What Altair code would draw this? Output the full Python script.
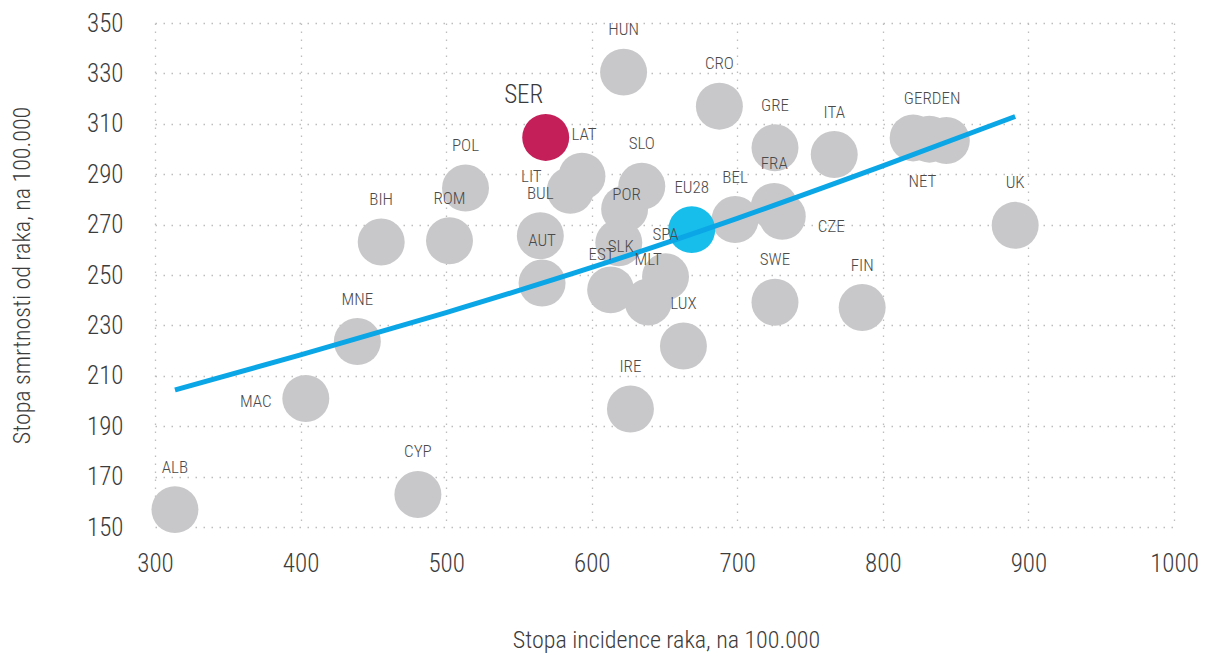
import altair as alt
import pandas as pd

# ---- data ----
countries = ["ALB", "CYP", "MAC", "MNE", "BIH", "ROM", "POL", "SER", "LAT", "LIT",
             "BUL", "AUT", "HUN", "CRO", "SLO", "POR", "SLK", "EST", "MLT", "SPA",
             "EU28", "LUX", "IRE", "BEL", "GRE", "FRA", "CZE", "ITA", "SWE", "FIN",
             "GER", "DEN", "NET", "UK"]
incidence = [313.7, 480.6, 403.6, 439.0, 455.4, 502.3, 513.3, 568.4, 593.3, 585.3,
             564.7, 565.9, 621.9, 687.7, 634.4, 622.6, 618.6, 613.0, 638.8, 650.7,
             668.7, 663.0, 626.6, 698.5, 725.9, 725.4, 730.9, 766.6, 725.9, 785.8,
             820.8, 843.6, 832.0, 890.9]
mortality = [156.9, 162.9, 201.0, 223.6, 263.1, 263.6, 284.5, 304.6, 289.2, 283.6,
             265.6, 246.8, 330.5, 317.0, 285.2, 276.2, 262.8, 244.1, 239.3, 249.3,
             268.0, 221.8, 196.8, 272.0, 300.5, 277.2, 273.3, 297.8, 239.2, 237.1,
             304.4, 303.4, 303.9, 269.7]
# exponential trend line
trend_x = [313.7, 400, 500, 600, 700, 800, 890.9]
trend_y = [204.4, 218.3, 235.1, 253.0, 272.5, 293.3, 312.9]

highlight = {"SER": "#c41f59", "EU28": "#17bdeb"}
label_text = {"GER": "GERDEN", "DEN": ""}

x_ticks = [300, 400, 500, 600, 700, 800, 900, 1000]
y_ticks = [150, 170, 190, 210, 230, 250, 270, 290, 310, 330, 350]

# ---- layout / style ----
W, H = 1019, 504
XD, YD = (300, 1000), (150, 350)
FONT = "Liberation Sans Narrow, Roboto Condensed, DejaVu Sans Condensed, Roboto"
GRAY = "#c8c8ca"
LINE = "#0aa6e6"
# label nudges in pixels (dx, dy) relative to the circle centre
label_nudge = {"MAC": (-50, 4), "LIT": (-39, -13), "POR": (2, -14), "SLK": (2, 4),
               "EST": (-9, -35), "CZE": (49, 11), "NET": (-7, 43), "GER": (19, -39),
               "LAT": (2, -41), "SER": (-22, -42)}
default_nudge = (0, -42)

df = pd.DataFrame({"country": countries, "inc": incidence, "mort": mortality})
df["kind"] = df["country"].map(lambda c: c if c in highlight else "other")
tdf = pd.DataFrame({"inc": trend_x, "mort": trend_y})

px_x = W / (XD[1] - XD[0])
px_y = H / (YD[1] - YD[0])
lab = df.copy()
lab["text"] = lab["country"].map(lambda c: label_text.get(c, c))
lab["lx"] = [r.inc + label_nudge.get(r.country, default_nudge)[0] / px_x for r in lab.itertuples()]
lab["ly"] = [r.mort - label_nudge.get(r.country, default_nudge)[1] / px_y for r in lab.itertuples()]
lab_small = lab[(lab["country"] != "SER") & (lab["text"] != "")]
lab_big = lab[lab["country"] == "SER"]

xs = alt.Scale(domain=list(XD), nice=False, zero=False)
ys = alt.Scale(domain=list(YD), nice=False, zero=False)

x_axis = alt.Axis(values=x_ticks, format="d", title="Stopa incidence raka, na 100.000",
                  titleX=511, titleY=113, titleBaseline="middle", titleAlign="center",
                  labelPadding=24, labelFontSize=25, labelFlush=False)
y_axis = alt.Axis(values=y_ticks, format="d", title="Stopa smrtnosti od raka, na 100.000",
                  titleX=-133, titleY=252, titleAngle=270, titleBaseline="middle",
                  titleAlign="center", labelPadding=32, labelFontSize=25, labelFlush=False)

base = alt.Chart(df)

gray_pts = base.transform_filter(alt.datum.kind == "other").mark_circle(
    size=2206, opacity=1, color=GRAY).encode(
    x=alt.X("inc:Q", scale=xs, axis=x_axis),
    y=alt.Y("mort:Q", scale=ys, axis=y_axis))

hl_pts = base.transform_filter(alt.datum.kind != "other").mark_circle(
    size=2206, opacity=1).encode(
    x=alt.X("inc:Q", scale=xs),
    y=alt.Y("mort:Q", scale=ys),
    color=alt.Color("kind:N", scale=alt.Scale(domain=list(highlight.keys()),
                                              range=list(highlight.values())), legend=None))

trend = alt.Chart(tdf).mark_line(color=LINE, strokeWidth=5, interpolate="monotone").encode(
    x=alt.X("inc:Q", scale=xs), y=alt.Y("mort:Q", scale=ys))

labels = alt.Chart(lab_small).mark_text(font=FONT, fontSize=17, fontWeight=300, color="#4a4a4a",
                                        baseline="middle", align="center").encode(
    x=alt.X("lx:Q", scale=xs), y=alt.Y("ly:Q", scale=ys), text="text:N")

ser_label = alt.Chart(lab_big).mark_text(font=FONT, fontSize=25, fontWeight=300, color="#3a3a3a",
                                         baseline="middle", align="center").encode(
    x=alt.X("lx:Q", scale=xs), y=alt.Y("ly:Q", scale=ys), text="text:N")

chart = alt.layer(gray_pts, hl_pts, trend, labels, ser_label).properties(
    width=W, height=H,
    autosize=alt.AutoSizeParams(type="none"),
    padding={"left": 147, "top": 15, "right": 25, "bottom": 127},
).configure_view(stroke=None).configure_axis(
    domain=False, ticks=False, grid=True, gridColor="#bdbdbd", gridDash=[1.5, 6.5],
    gridWidth=1.3, labelFont=FONT, labelFontWeight=300, labelColor="#3c3c3c", titleFont=FONT,
    titleFontSize=24, titleFontWeight=300, titleColor="#3c3c3c")

chart.save("out.html", embed_options={"renderer": "svg", "actions": False})
